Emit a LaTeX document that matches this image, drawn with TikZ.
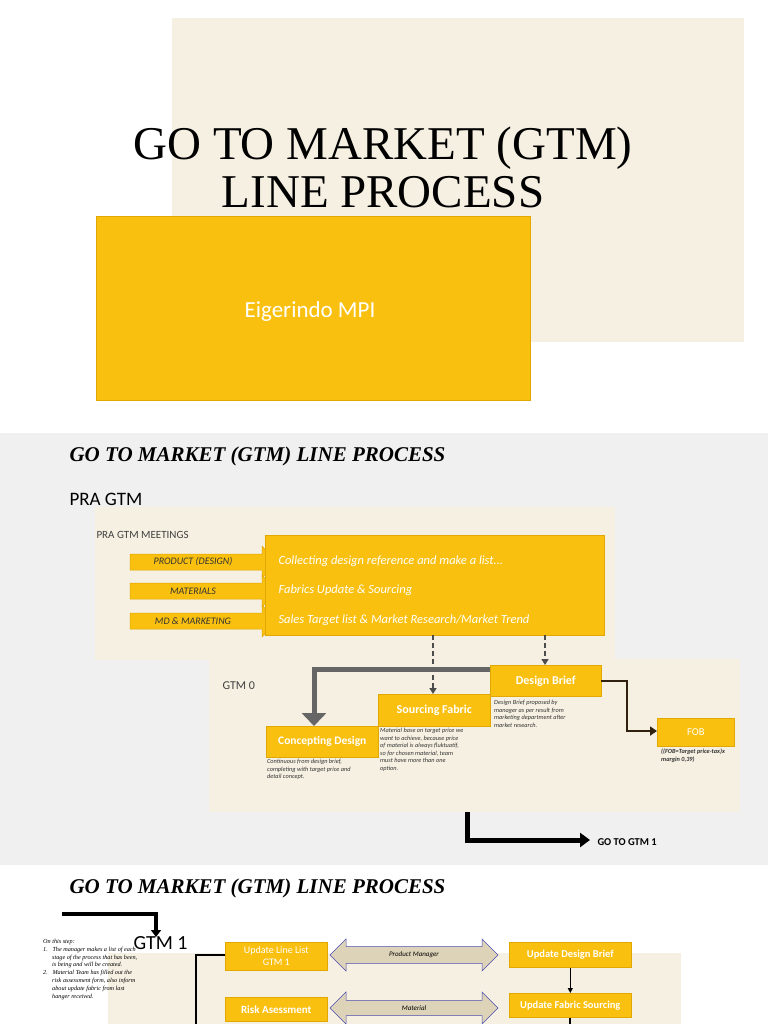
\documentclass[tikz,border=0pt]{standalone}
\usepackage{fontspec}
\setmainfont{Liberation Serif}
\newfontfamily\carl{Carlito}
\usetikzlibrary{arrows.meta,shapes.arrows}
\definecolor{cream}{HTML}{F6F0E2}
\definecolor{gold}{HTML}{FAC010}
\definecolor{goldd}{HTML}{E0A800}
\definecolor{slg}{HTML}{F0F0F0}
\definecolor{tan}{HTML}{DDD3B8}
\begin{document}
\begin{tikzpicture}[x=1pt,y=-1pt,
  gbox/.style={fill=gold,draw=goldd,line width=0.6pt,text=white,font=\carl\bfseries\fontsize{9}{10}\selectfont,align=center,inner sep=0pt},
  small/.style={font=\carl\itshape\fontsize{6.3}{7.6}\selectfont,align=left,anchor=north west,inner sep=0pt,text=black!80},
  inarrow/.style={fill=gold,draw=goldd,line width=0.5pt},
  inlabel/.style={font=\carl\itshape\fontsize{10}{11}\selectfont,text=black!80},
  dbl/.style={double arrow,fill=tan,draw=gray!60!blue,line width=0.5pt,minimum height=168pt,minimum width=32pt,double arrow head extend=3pt,inner sep=0pt,font=\carl\itshape\fontsize{7}{8}\selectfont}]
\useasboundingbox (0,0) rectangle (768,1024);
\fill[white] (0,0) rectangle (768,1024);
% slide 1
\fill[cream] (172,18) rectangle (744,342);
\node (t1) at (383,148) {\fontsize{47}{50}\selectfont GO TO MARKET (GTM)};
\node (t2) at (383,192) {\fontsize{47}{50}\selectfont LINE PROCESS};
\node[fill=gold,draw=goldd,minimum width=434pt,minimum height=184pt,anchor=north west,inner sep=0pt] (ob) at (96,216) {};
\node[text=white,font=\carl\fontsize{23}{25}\selectfont] (eig) at (310,311) {Eigerindo MPI};
% slide 2
\fill[slg] (0,433) rectangle (768,865);
\node[anchor=west,font=\bfseries\itshape\fontsize{21}{23}\selectfont] (s2t) at (66,456) {GO TO MARKET (GTM) LINE PROCESS};
\node[anchor=west,font=\carl\fontsize{19}{21}\selectfont] (pra) at (66,499) {PRA GTM};
\fill[cream] (95,507) rectangle (615,660);
\node[anchor=west,font=\carl\fontsize{11}{12}\selectfont,text=black!75] (pgm) at (93,535) {PRA GTM MEETINGS};
\foreach \yy in {562,591,621}{
  \filldraw[inarrow] (130,\yy-8) -- (262,\yy-8) -- (262,\yy-16) -- (276,\yy) -- (262,\yy+16) -- (262,\yy+8) -- (130,\yy+8) -- cycle;}
\node[inlabel] (a1) at (193,562) {PRODUCT (DESIGN)};
\node[inlabel] (a2) at (193,591) {MATERIALS};
\node[inlabel] (a3) at (193,621) {MD \& MARKETING};
\node[fill=gold,draw=goldd,minimum width=339pt,minimum height=100pt,anchor=north west,inner sep=0pt] (big) at (265,535) {};
\begin{scope}[every node/.style={anchor=west,text=white,font=\carl\itshape\fontsize{12.5}{14}\selectfont}]
\node (l1) at (275,561) {Collecting design reference and make a list...};
\node (l2) at (275,590) {Fabrics Update \& Sourcing};
\node (l3) at (275,620) {Sales Target list \& Market Research/Market Trend};
\end{scope}
\fill[cream] (209,659) rectangle (740,812);
\node[anchor=west,font=\carl\fontsize{12}{13}\selectfont,text=black!75] (g0) at (219,686) {GTM 0};
\node[gbox,minimum width=111pt,minimum height=31pt,anchor=north west,font=\carl\bfseries\fontsize{12}{13}\selectfont] (db) at (490,665) {Design Brief};
\node[gbox,minimum width=112pt,minimum height=32pt,anchor=north west,font=\carl\bfseries\fontsize{12}{13}\selectfont] (sf) at (378,694) {Sourcing Fabric};
\node[gbox,minimum width=112pt,minimum height=31pt,anchor=north west,font=\carl\bfseries\fontsize{11.5}{13}\selectfont] (cd) at (266,726) {Concepting Design};
\node[gbox,minimum width=77pt,minimum height=28pt,anchor=north west,font=\carl\fontsize{10.5}{12}\selectfont] (fob) at (657,718) {FOB};
\node[small] (txc) at (267,759) {Continuous from design brief,\\completing with target price and\\detail concept.};
\node[small] (txs) at (380,728) {Material base on target price we\\want to achieve, because price\\of material is always fluktuatif,\\so for chosen material, team\\must have more than one\\option.};
\node[small] (txd) at (494,700) {Design Brief proposed by\\manager as per result from\\marketing department after\\market research.};
\node[small,font=\carl\bfseries\itshape\fontsize{6.3}{7.6}\selectfont] (txf) at (661,749) {((FOB=Target price-tax)x\\margin 0,39)};
\coordinate (c1) at (433,635); \coordinate (c2) at (545,635);
\draw[line width=1.8pt,draw=black!70,dash pattern=on 5pt off 3pt,-{Triangle[length=6pt,width=7pt]}] (c1) -- (c1|-sf.north);
\draw[line width=1.8pt,draw=black!70,dash pattern=on 5pt off 3pt,-{Triangle[length=6pt,width=7pt]}] (c2) -- (c2|-db.north);
\coordinate (g1) at (490,669); \coordinate (g2) at (314,669);
\draw[line width=5pt,draw=gray!80!black,-{Triangle[length=13pt,width=24pt]}] (g1) -- (g2) -- (314,726);
\coordinate (f1) at (601,681);
\draw[line width=2.5pt,draw=black!75!brown,-{Triangle[length=7pt,width=9pt]}] (f1) -- (627,681) -- (627,731) -- (fob.west|-627,731);
\coordinate (k1) at (467,812); \coordinate (k2) at (590,840);
\draw[line width=5pt,-{Triangle[length=10pt,width=14pt]}] (k1) -- (467,840) -- (k2);
\node[anchor=west,font=\carl\bfseries\fontsize{10.5}{12}\selectfont] (go) at (594,842) {GO TO GTM 1};
% slide 3
\node[anchor=west,font=\bfseries\itshape\fontsize{21}{23}\selectfont] (s3t) at (66,888) {GO TO MARKET (GTM) LINE PROCESS};
\coordinate (m1) at (62,914);
\draw[line width=4pt,-{Triangle[length=7pt,width=10pt]}] (m1) -- (156,914) -- (156,937);
\fill[cream] (108,953) rectangle (681,1024);
\node[anchor=west,font=\carl\fontsize{20}{21}\selectfont] (g1t) at (130,943) {GTM 1};
\node[small,font=\itshape\fontsize{6.2}{7.8}\selectfont,text=black] (lt) at (43,939) {On this step:\\
1.\ \ \ The manager makes a list of each\\
\hspace*{9pt}stage of the process that has been,\\
\hspace*{9pt}is being and will be created.\\
2.\ \ \ Material Team has filled out the\\
\hspace*{9pt}risk assessment form, also inform\\
\hspace*{9pt}about update fabric from last\\
\hspace*{9pt}hanger received.};
\node[gbox,minimum width=102pt,minimum height=28pt,anchor=north west,font=\carl\fontsize{10}{12}\selectfont] (ul) at (225,942) {Update Line List\\GTM 1};
\node[gbox,minimum width=122pt,minimum height=25pt,anchor=north west,font=\carl\bfseries\fontsize{10.5}{12}\selectfont] (ud) at (509,942) {Update Design Brief};
\node[gbox,minimum width=102pt,minimum height=24pt,anchor=north west,font=\carl\bfseries\fontsize{11}{12}\selectfont] (ra) at (225,997) {Risk Asessment};
\node[gbox,minimum width=122pt,minimum height=24pt,anchor=north west,font=\carl\bfseries\fontsize{10.5}{12}\selectfont] (uf) at (509,993) {Update Fabric Sourcing};
\node[dbl] (pm) at (414,955) {Product Manager};
\node[dbl] (mt) at (414,1008) {Material};
\draw[line width=1.8pt] (ul.west|-0,955) -- (196,955) -- (196,1024);
\draw[line width=1.2pt,-{Triangle[length=5pt,width=5pt]}] (ud) -- (uf);
\draw[line width=1.8pt] (uf.south) -- (uf.south|-0,1024);
\end{tikzpicture}
\end{document}
